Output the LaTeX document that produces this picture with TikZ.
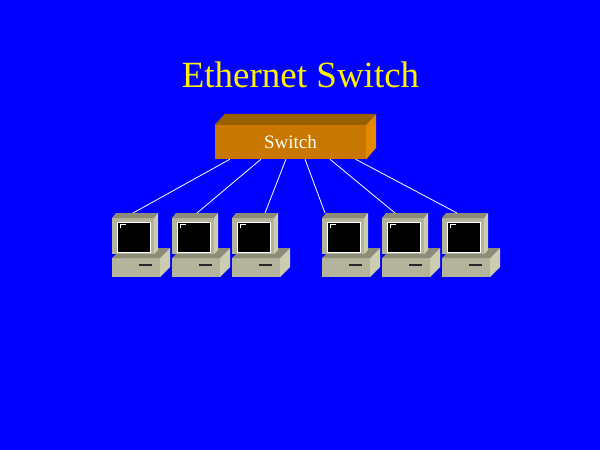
\documentclass[tikz,border=0pt]{standalone}
\usepackage{fontspec}
\setmainfont{Liberation Serif}
\usetikzlibrary{calc}
\usetikzlibrary{positioning}

\definecolor{bgblue}{RGB}{0,0,255}
\definecolor{swfront}{RGB}{200,120,0}
\definecolor{swtop}{RGB}{152,96,0}
\definecolor{swside}{RGB}{228,136,0}
\definecolor{pcfront}{RGB}{180,180,156}
\definecolor{pctop}{RGB}{140,140,120}
\definecolor{pcside}{RGB}{204,204,174}
\definecolor{slotgray}{RGB}{40,40,40}

\tikzset{
 switchbox/.style={rectangle, fill=swfront, minimum width=151pt, minimum height=34pt, inner sep=0pt, text=white, font=\fontsize{19}{19}\selectfont},
 title/.style={text=yellow, inner sep=0pt, font=\fontsize{37}{37}\selectfont},
 cable/.style={white, line width=.8pt},
 screen/.style={fill=black, draw=white, line width=1pt},
 slot/.style={slotgray, line width=1.2pt}
}

\begin{document}
\begin{tikzpicture} [x=1pt, y=-1pt]

\fill[bgblue] (0,0) rectangle (600,450);
\useasboundingbox (0,0) rectangle (600,450);

\node[title] (title) at (300.5,74.5) {Ethernet Switch};

% switch box
\node[switchbox] (sw) at (290.5,142) {Switch};
\fill[swtop] (sw.north west) -- ++(10,-11) -- ++(151,0) -- (sw.north east) -- cycle;
\fill[swside] (sw.north east) -- ++(10,-11) -- ++(0,34) -- (sw.south east) -- cycle;

% computers
\foreach \x/\c [count=\i] in {112/21, 172/25, 232/33, 322/3, 382/13, 442/15} {
 \fill[pcfront] (\x,258) rectangle ++(48,19);
 \fill[pctop] (\x,258) -- ++(10,-10) -- ++(48,0) -- ++(-10,10) -- cycle;
 \fill[pcside] (\x+48,258) -- ++(10,-10) -- ++(0,19) -- ++(-10,10) -- cycle;
 \draw[slot] (\x+27,265) -- ++(13,0);
 \fill[slotgray] (\x+31,263.5) rectangle ++(5,1.5);
 \fill[pcfront] (\x,218) rectangle ++(42,36);
 \fill[pctop] (\x,218) -- ++(4,-5) -- ++(42,0) -- ++(-4,5) -- cycle;
 \fill[pcside] (\x+42,218) -- ++(4,-5) -- ++(0,37) -- ++(-4,4) -- cycle;
 \filldraw[screen] (\x+5.5,222.5) rectangle ++(32.5,29.5);
 \draw[white, line width=1pt] (\x+8.5,228) |- ++(5,-3.5);
 \coordinate (pc\i) at (\x+\c,213);
}

\foreach \f [count=\i] in {0.1, 0.305, 0.47, 0.596, 0.76, 0.93}
 \draw[cable] ($(sw.south west)!\f!(sw.south east)$) -- (pc\i);

\end{tikzpicture}
\end{document}
